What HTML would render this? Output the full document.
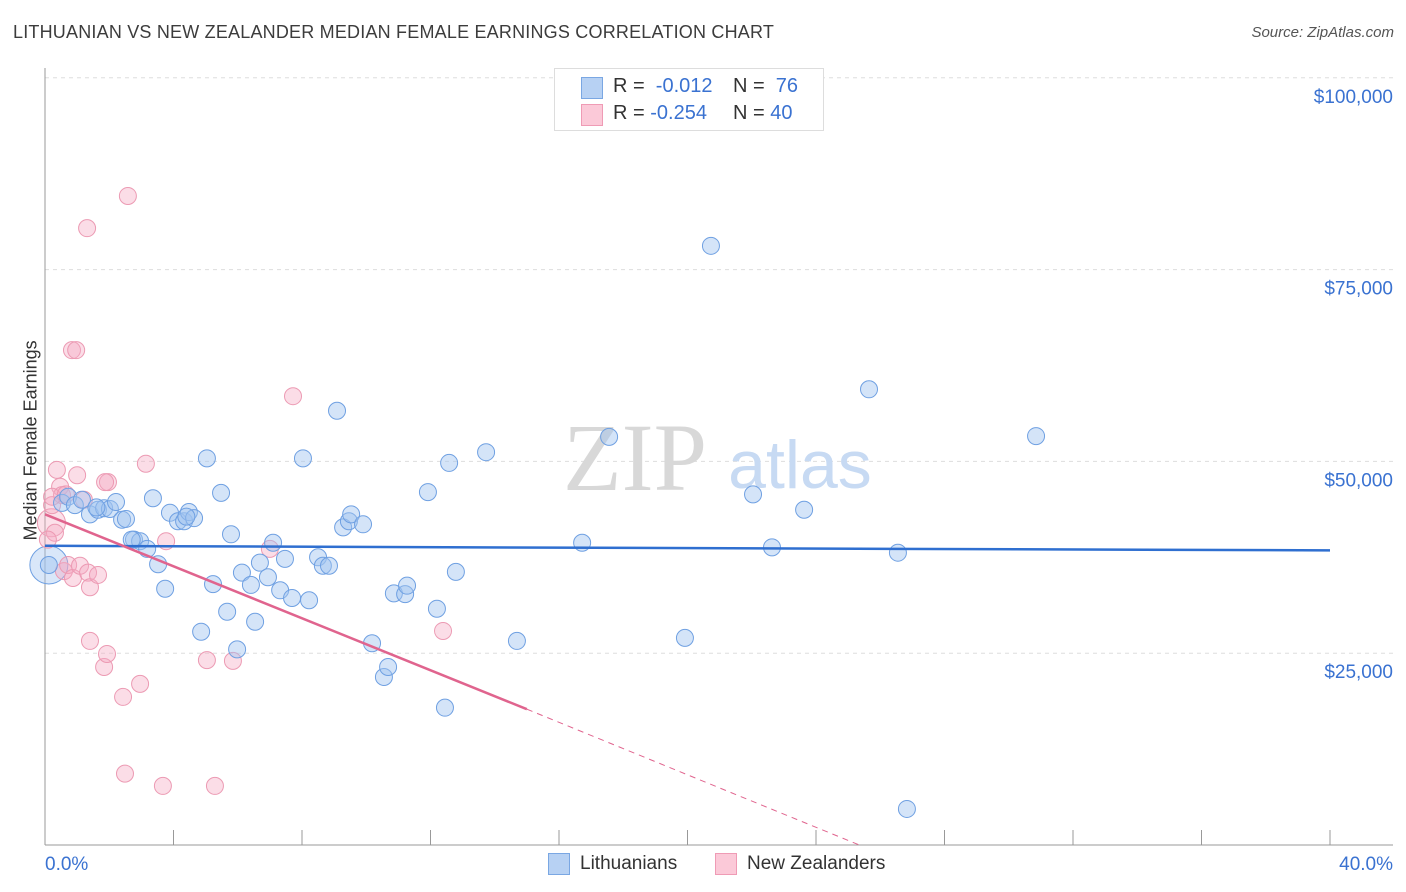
<!DOCTYPE html>
<html><head><meta charset="utf-8">
<style>
body{margin:0;background:#fff;font-family:"Liberation Sans",sans-serif;}
#wrap{position:relative;width:1406px;height:892px;overflow:hidden;}
.t{position:absolute;white-space:nowrap;}
</style></head><body>
<div id="wrap">
<div class="t" style="left:13px;top:22px;font-size:18px;color:#3c3c3c;letter-spacing:0.2px">LITHUANIAN VS NEW ZEALANDER MEDIAN FEMALE EARNINGS CORRELATION CHART</div>
<div class="t" style="right:12px;top:24px;font-size:15px;color:#555;font-style:italic">Source: ZipAtlas.com</div>
<div class="t" style="left:-54px;top:445px;font-size:18px;color:#333;transform:rotate(-90deg);width:170px;text-align:center">Median Female Earnings</div>
<svg id="svg" width="1406" height="892" style="position:absolute;left:0;top:0"></svg>
<div style="position:absolute;left:554px;top:68px;width:268px;height:61px;border:1px solid #ddd;background:#fff;font-size:20px">
 <div style="position:absolute;left:26px;top:8px;width:20px;height:20px;background:#b7d1f3;border:1px solid #7aa7e3"></div>
 <div class="t" style="left:58px;top:6px;color:#333">R = <span style="color:#3a72d1">&nbsp;-0.012</span></div>
 <div class="t" style="left:178px;top:6px;color:#333">N = <span style="color:#3a72d1">&nbsp;76</span></div>
 <div style="position:absolute;left:26px;top:35px;width:20px;height:20px;background:#fbc9d8;border:1px solid #ef9bb5"></div>
 <div class="t" style="left:58px;top:33px;color:#333">R = <span style="color:#3a72d1">-0.254</span></div>
 <div class="t" style="left:178px;top:33px;color:#333">N = <span style="color:#3a72d1">40</span></div>
</div>
<div>
 <div style="position:absolute;left:548px;top:853px;width:20px;height:20px;background:#b7d1f3;border:1px solid #7aa7e3"></div>
 <div class="t" style="left:580px;top:853px;font-size:19px;color:#333">Lithuanians</div>
 <div style="position:absolute;left:715px;top:853px;width:20px;height:20px;background:#fbc9d8;border:1px solid #ef9bb5"></div>
 <div class="t" style="left:747px;top:853px;font-size:19px;color:#333">New Zealanders</div>
</div>
</div>
<script>
const yTicks=[25000,50000,75000,100000];
const yTickLabels=["$25,000","$50,000","$75,000","$100,000"];
const xTickLabels=["0.0%","40.0%"];
const ltX=[0.12,0.53,0.72,0.93,1.15,1.40,1.65,1.84,2.02,2.21,2.40,2.52,2.77,2.96,3.18,3.36,3.52,3.74,3.89,4.14,4.33,4.48,4.64,4.86,5.04,5.23,5.48,5.67,5.79,5.98,6.13,6.41,6.54,6.69,6.94,7.10,7.32,7.47,7.69,8.03,8.22,8.50,8.65,8.84,9.09,9.28,9.46,9.53,9.90,10.18,10.55,10.68,10.86,11.21,11.27,11.92,12.20,12.45,12.58,12.79,13.73,14.69,16.72,17.56,19.92,20.73,22.04,22.63,23.63,25.65,26.55,26.83,30.85,4.40,1.60,2.70];
const ltY=[36500,44600,45400,44300,45000,43100,43700,43900,43800,44700,42400,42500,39800,39600,38600,45200,36600,33400,43300,42200,42200,43400,42600,27800,50400,34000,45900,30400,40500,25500,35500,33900,29100,36800,34900,39400,33200,37300,32200,50400,31900,37500,36400,36400,56600,41400,42200,43100,41800,26300,21900,23200,32800,32700,33800,46000,30800,17900,49800,35600,51200,26600,39400,53200,27000,78100,45700,38800,43700,59400,38100,4700,53300,42800,44000,39800];
const nzX=[0.22,0.31,0.37,0.47,0.53,0.59,0.72,0.84,0.97,0.87,1.00,1.09,1.21,1.31,1.34,1.40,1.40,1.65,1.84,1.93,1.96,1.87,2.43,2.49,2.58,2.96,3.14,3.67,3.77,5.04,5.29,5.85,7.00,7.72,12.39,0.22,0.09,0.65];
const nzY=[44300,40700,48900,46700,45600,35700,36500,64500,64500,34800,48200,36400,45000,80400,35500,33600,26600,35200,23200,24900,47300,47300,19300,9300,84600,21000,49700,7700,39600,24100,7700,24000,38600,58500,27900,45400,39800,45700];
const ltTrend=[39000,38400];
const nzTrend=[43100,17700,0];
const nzTrendX=[0,15.0,25.35];

const X=v=>45+v/40*1285, Y=v=>845-v/25000*191.8;
const svg=document.getElementById('svg');const NS='http://www.w3.org/2000/svg';
function mk(t,a){const e=document.createElementNS(NS,t);for(const k in a)e.setAttribute(k,a[k]);svg.appendChild(e);return e;}
yTicks.forEach((v,i)=>{
 const g=mk('line',{x1:45,x2:1393,y1:Y(v),y2:Y(v),stroke:'#ddd','stroke-dasharray':'4,4'});
 
 
 const t=mk('text',{x:1393,y:Y(v)+25,'text-anchor':'end','font-size':19,fill:'#3a72d1','font-family':'Liberation Sans'});
 t.textContent=yTickLabels[i];
 
 
});
const ax=mk('line',{x1:45,x2:45,y1:68,y2:845,stroke:'#999'});


const bx=mk('line',{x1:45,x2:1393,y1:845,y2:845,stroke:'#999'});


for(let i=1;i<=10;i++){const tk=mk('line',{x1:X(i*4),x2:X(i*4),y1:830,y2:845,stroke:'#999'});
 
 }
[[0,'start',45],[40,'end',1393]].forEach((d,i)=>{const t=mk('text',{x:d[2],y:870,'text-anchor':d[1],'font-size':19,fill:'#3a72d1','font-family':'Liberation Sans'});t.textContent=xTickLabels[i];
 
 });
const w1=mk('text',{x:635,y:490,'text-anchor':'middle','font-size':96,fill:'#d8d8d8','font-family':'Liberation Serif'});w1.textContent='ZIP';


const w2=mk('text',{x:800,y:488,'text-anchor':'middle','font-size':68,fill:'#c7daf3','font-family':'Liberation Sans'});w2.textContent='atlas';


const bigB=mk('circle',{cx:X(0.12),cy:Y(36500),r:19,fill:'rgba(160,195,240,0.4)',stroke:'#6fa0e2'});


const bigP=mk('circle',{cx:X(0.2),cy:Y(42000),r:14,fill:'rgba(245,170,195,0.35)',stroke:'#ec9ab3'});


nzX.forEach((x,i)=>{const c=mk('circle',{cx:X(x),cy:Y(nzY[i]),r:8.5,fill:'rgba(245,170,195,0.4)',stroke:'#ec9ab3','stroke-width':1});
 
 });
ltX.forEach((x,i)=>{const c=mk('circle',{cx:X(x),cy:Y(ltY[i]),r:8.5,fill:'rgba(160,195,240,0.45)',stroke:'#6fa0e2','stroke-width':1});
 
 });
const tb=mk('line',{x1:X(0),y1:Y(ltTrend[0]),x2:X(40),y2:Y(ltTrend[1]),stroke:'#2f6fd0','stroke-width':2.5});


const tp=mk('line',{x1:X(nzTrendX[0]),y1:Y(nzTrend[0]),x2:X(nzTrendX[1]),y2:Y(nzTrend[1]),stroke:'#e0648e','stroke-width':2.5});


const td=mk('line',{x1:X(nzTrendX[1]),y1:Y(nzTrend[1]),x2:X(nzTrendX[2]),y2:Y(nzTrend[2]),stroke:'#e0648e','stroke-width':1,'stroke-dasharray':'6,5'});


</script>
</body></html>
